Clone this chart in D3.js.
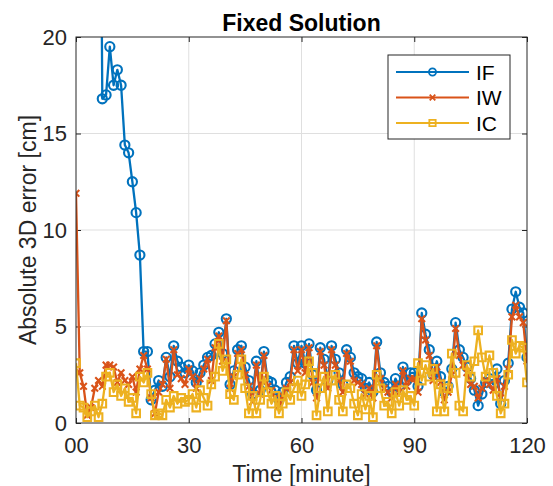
<!DOCTYPE html>
<html>
<head>
<meta charset="utf-8">
<script src="https://cdn.jsdelivr.net/npm/d3@7"></script>
<style>
  body { margin: 0; background: #fff; }
  svg { display: block; font-family: "Liberation Sans", Arial, sans-serif; }
</style>
</head>
<body>
<script>
// Sampling times [minute]
const minutes = [
  0, 1, 2, 3, 4, 5, 6, 7, 8, 9,
  10, 11, 12, 13, 14, 15, 16, 17, 18, 19,
  20, 21, 22, 23, 24, 25, 26, 27, 28, 29,
  30, 31, 32, 33, 34, 35, 36, 37, 38, 39,
  40, 41, 42, 43, 44, 45, 46, 47, 48, 49,
  50, 51, 52, 53, 54, 55, 56, 57, 58, 59,
  60, 61, 62, 63, 64, 65, 66, 67, 68, 69,
  70, 71, 72, 73, 74, 75, 76, 77, 78, 79,
  80, 81, 82, 83, 84, 85, 86, 87, 88, 89,
  90, 91, 92, 93, 94, 95, 96, 97, 98, 99,
  100, 101, 102, 103, 104, 105, 106, 107, 108, 109,
  110, 111, 112, 113, 114, 115, 116, 117, 118, 119,
  120
];

// Absolute 3D error [cm]
const errIF = [
  null, null, null, null, null, null, 45, 16.8, 17.0, 19.5,
  17.5, 18.3, 17.5, 14.4, 14.0, 12.5, 10.9, 8.7, 3.7, 3.7,
  1.2, 1.7, 2.2, 1.9, 3.4, 2.4, 4.0, 3.2, 2.9, 2.6,
  3.0, 2.7, 2.1, 2.6, 3.0, 3.4, 3.5, 4.1, 4.7, 3.6,
  5.4, 2.0, 2.7, 3.8, 4.0, 2.9, 2.2, 1.5, 3.2, 1.7,
  3.7, 2.2, 2.1, 1.7, 1.2, 1.6, 2.1, 2.4, 4.0, 3.1,
  4.0, 3.1, 4.1, 2.5, 1.7, 3.9, 3.3, 2.2, 4.0, 3.3,
  2.6, 2.0, 3.8, 3.4, 2.6, 2.4, 2.3, 1.8, 2.1, 1.6,
  4.2, 2.6, 2.1, 1.9, 1.6, 2.3, 1.9, 2.9, 2.2, 2.6,
  2.6, 1.9, 5.7, 4.6, 3.8, 2.5, 3.2, 2.4, 1.6, 1.9,
  2.8, 5.2, 3.8, 3.4, 2.9, 2.3, 1.7, 0.9, 1.5, 2.1,
  2.3, 2.0, 2.8, 1.0, 2.2, 3.1, 5.9, 6.8, 6.0, 5.7,
  3.4
];
const errIW = [
  11.9, 2.6, 1.9, 0.4, 0.8, 1.8, 2.2, 1.9, 3.0, 3.0,
  2.9, 2.1, 2.6, 2.2, 2.0, 2.4, 1.6, 2.8, 3.5, 2.8,
  1.3, 0.5, 1.6, 2.0, 3.3, 1.8, 3.8, 2.5, 2.3, 2.0,
  2.8, 2.4, 1.8, 2.3, 2.8, 3.3, 2.2, 3.9, 4.5, 3.2,
  5.3, 1.8, 2.4, 3.6, 3.8, 2.5, 1.9, 1.1, 3.0, 1.5,
  3.5, 1.9, 1.7, 1.3, 0.9, 1.4, 1.8, 2.1, 3.8, 2.7,
  3.8, 2.6, 3.9, 2.1, 1.3, 3.7, 3.0, 1.8, 3.8, 3.0,
  2.2, 1.6, 3.6, 3.2, 2.2, 2.1, 2.0, 1.5, 1.8, 1.3,
  4.0, 2.3, 1.8, 1.6, 1.3, 2.0, 1.6, 2.7, 1.9, 2.3,
  2.3, 1.6, 5.4, 4.3, 3.5, 2.2, 2.9, 2.1, 1.2, 1.6,
  2.5, 4.9, 3.5, 3.0, 2.6, 2.0, 1.9, 1.3, 1.8, 2.2,
  2.0, 1.7, 2.3, 1.3, 1.9, 2.8, 5.5, 6.1, 5.5, 5.2,
  3.2
];
const errIC = [
  3.1, 0.9, 0.8, 0.3, 0.6, 0.9, 0.3, 1.0, 2.4, 2.6,
  1.6, 2.0, 1.4, 1.8, 1.1, 1.3, 0.5, 2.4, 2.1, 2.6,
  1.5, 0.4, 0.5, 0.4, 1.2, 0.8, 1.4, 1.0, 1.3, 1.1,
  1.2, 1.5, 0.8, 1.7, 1.3, 0.9, 2.0, 2.4, 4.1, 2.7,
  3.3, 1.5, 1.2, 2.5, 3.3, 1.8, 0.5, 1.4, 0.5, 1.2,
  2.4, 1.6, 1.0, 1.4, 0.5, 1.0, 1.6, 1.2, 1.8, 2.2,
  1.4, 2.0, 3.2, 2.6, 0.4, 1.8, 2.4, 0.6, 2.2, 2.5,
  1.2, 0.6, 2.0, 1.8, 1.0, 0.4, 1.5, 0.7, 1.4, 0.3,
  2.5, 1.8, 0.9, 1.1, 0.5, 1.6, 0.9, 1.7, 1.2, 1.4,
  0.9, 3.1, 2.2, 3.0, 2.4, 2.8, 0.6, 2.0, 0.6, 1.8,
  3.6, 2.6, 0.9, 0.6, 3.0, 2.4, 3.2, 4.8, 3.4, 2.4,
  3.5, 2.6, 1.4, 0.5, 1.0, 2.5, 4.3, 3.6, 4.0, 3.9,
  2.1
];

const seriesNames = ["IF", "IW", "IC"];
const seriesColors = ["#0072BD", "#D95319", "#EDB120"];
const xTicks = [0, 30, 60, 90, 120];
const yTicks = [0, 5, 10, 15, 20];

// Layout
const width = 553, height = 486;
const plot = { left: 76, top: 37, right: 527, bottom: 423 };
const axisColor = "#262626";

const svg = d3.select("body").append("svg")
    .attr("width", width)
    .attr("height", height);

const x = d3.scaleLinear().domain([0, 120]).range([plot.left, plot.right]);
const y = d3.scaleLinear().domain([0, 20]).range([plot.bottom, plot.top]);

// Grid
const grid = svg.append("g").attr("stroke", "#dfdfdf").attr("stroke-width", 1);
grid.selectAll(".gx").data(xTicks.slice(1, -1)).join("line")
    .attr("x1", d => x(d)).attr("x2", d => x(d))
    .attr("y1", plot.top).attr("y2", plot.bottom);
grid.selectAll(".gy").data(yTicks.slice(1, -1)).join("line")
    .attr("x1", plot.left).attr("x2", plot.right)
    .attr("y1", d => y(d)).attr("y2", d => y(d));

// Axes (ticks pointing inward, box on)
function styleAxis(g) {
  g.select(".domain").remove();
  g.selectAll(".tick line").attr("stroke", axisColor);
  g.selectAll(".tick text").attr("fill", axisColor).attr("font-size", 22)
    .attr("font-family", "Liberation Sans, Arial, sans-serif");
}
svg.append("g")
    .attr("transform", `translate(0,${plot.bottom})`)
    .call(d3.axisBottom(x).tickValues(xTicks).tickSizeInner(-5).tickSizeOuter(0)
      .tickPadding(14).tickFormat(d => d === 0 ? "00" : d))
    .call(styleAxis);
svg.append("g")
    .attr("transform", `translate(0,${plot.top})`)
    .call(d3.axisTop(x).tickValues(xTicks).tickSizeInner(-5).tickSizeOuter(0).tickFormat(""))
    .call(styleAxis);
svg.append("g")
    .attr("transform", `translate(${plot.left},0)`)
    .call(d3.axisLeft(y).tickValues(yTicks).tickSizeInner(-5).tickSizeOuter(0).tickPadding(9))
    .call(styleAxis);
svg.append("g")
    .attr("transform", `translate(${plot.right},0)`)
    .call(d3.axisRight(y).tickValues(yTicks).tickSizeInner(-5).tickSizeOuter(0).tickFormat(""))
    .call(styleAxis);

// Clip region
svg.append("clipPath").attr("id", "clip")
  .append("rect")
    .attr("x", plot.left).attr("y", plot.top)
    .attr("width", plot.right - plot.left).attr("height", plot.bottom - plot.top);

const allSeries = [errIF, errIW, errIC].map((vals, i) => ({
  name: seriesNames[i],
  color: seriesColors[i],
  points: minutes.map((t, k) => [t, vals[k]])
}));

const line = d3.line()
    .defined(d => d[1] != null)
    .x(d => x(d[0]))
    .y(d => y(d[1]));

const markerPath = {
  IF: d3.symbol(d3.symbolCircle, 66)(),
  IW: d3.symbol(d3.symbolTimes, 30)(),
  IC: d3.symbol(d3.symbolSquare, 58)()
};

const plotArea = svg.append("g").attr("clip-path", "url(#clip)");
allSeries.forEach(s => {
  const g = plotArea.append("g");
  g.append("path")
      .datum(s.points)
      .attr("fill", "none")
      .attr("stroke", s.color)
      .attr("stroke-width", 2.3)
      .attr("stroke-linejoin", "round")
      .attr("d", line);
  g.selectAll("path.mk")
    .data(s.points.filter(d => d[1] != null))
    .join("path")
      .attr("class", "mk")
      .attr("transform", d => `translate(${x(d[0])},${y(d[1])})`)
      .attr("d", markerPath[s.name])
      .attr("fill", "none")
      .attr("stroke", s.color)
      .attr("stroke-width", 2.1);
});

// Box
svg.append("rect")
    .attr("x", plot.left).attr("y", plot.top)
    .attr("width", plot.right - plot.left).attr("height", plot.bottom - plot.top)
    .attr("fill", "none").attr("stroke", axisColor).attr("stroke-width", 1);

// Title and labels
svg.append("text")
    .attr("x", (plot.left + plot.right) / 2).attr("y", 31)
    .attr("text-anchor", "middle")
    .attr("font-size", 23).attr("font-weight", "bold").attr("fill", "#000")
    .text("Fixed Solution");
svg.append("text")
    .attr("x", (plot.left + plot.right) / 2).attr("y", 482)
    .attr("text-anchor", "middle")
    .attr("font-size", 23).attr("fill", axisColor)
    .text("Time [minute]");
svg.append("text")
    .attr("transform", `translate(36,${(plot.top + plot.bottom) / 2}) rotate(-90)`)
    .attr("text-anchor", "middle")
    .attr("font-size", 23).attr("fill", axisColor)
    .text("Absolute 3D error [cm]");

// Legend
const legend = svg.append("g").attr("transform", "translate(388,55)");
legend.append("rect")
    .attr("width", 122).attr("height", 84)
    .attr("fill", "#fff").attr("stroke", axisColor).attr("stroke-width", 1);
allSeries.forEach((s, i) => {
  const row = legend.append("g").attr("transform", `translate(0,${17 + i * 25.5})`);
  row.append("line")
      .attr("x1", 8).attr("x2", 81)
      .attr("stroke", s.color).attr("stroke-width", 2);
  row.append("path")
      .attr("transform", "translate(44.5,0)")
      .attr("d", d3.symbol(s.name === "IF" ? d3.symbolCircle : s.name === "IW" ? d3.symbolTimes : d3.symbolSquare,
                           s.name === "IW" ? 22 : 40)())
      .attr("fill", "none").attr("stroke", s.color).attr("stroke-width", 1.8);
  row.append("text")
      .attr("x", 88).attr("dy", "0.36em")
      .attr("font-size", 21).attr("fill", "#000")
      .text(s.name);
});
</script>
</body>
</html>
